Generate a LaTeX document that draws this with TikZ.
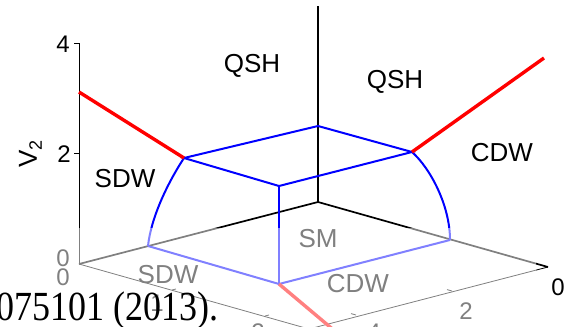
\documentclass[tikz,border=0pt]{standalone}
\usepackage{fontspec}
\setmainfont{Liberation Serif}
\setsansfont{Liberation Sans}
\begin{document}
\begin{tikzpicture}[x=1pt,y=-1pt,
  boxedge/.style={black, line width=1.7pt},
  zaxis/.style={black, line width=1pt},
  floorax/.style={black, line width=0.8pt},
  phase/.style={blue, line width=2pt},
  trans/.style={red, line width=3.4pt},
  region/.style={font=\sffamily\fontsize{26}{26}\selectfont, inner sep=0pt, anchor=base},
  ticklab/.style={font=\sffamily\fontsize{24}{24}\selectfont, inner sep=0pt, anchor=base},
  tickmark/.style={black, line width=0.8pt}]
\useasboundingbox (0,0) rectangle (566,327);
\clip (0,0) rectangle (566,327);

% floor corners and box
\coordinate (L) at (79,264);
\coordinate (Bk) at (318,202);
\coordinate (R) at (548,267);
\coordinate (F) at (309,329);
\coordinate (Ztop) at (79,43);
\coordinate (Vtop) at (318,6);

% phase boundary points
\coordinate (A) at (184,158);
\coordinate (Bt) at (318,126);
\coordinate (C) at (412,152);
\coordinate (D) at (279,186);
\coordinate (E) at (279,284);
\coordinate (Pl) at (148,246);
\coordinate (Pr) at (450,240);
\coordinate (RedL) at (79,92);
\coordinate (RedR) at (544,58);
\coordinate (RedF) at (336,332);

% box edges and axes
\draw[zaxis] (L) -- (Ztop);
\draw[boxedge] (L) -- (Bk) -- (R);
\draw[boxedge] (Bk) -- (Vtop);
\draw[floorax] (L) -- (F) -- (R);

% ticks
\draw[tickmark] (74,43) -- (Ztop);
\draw[tickmark] (74,153) -- (79,153);
\draw[tickmark] (172,290) -- ++(4,-1);
\draw[tickmark] (265,316) -- ++(4,-1);
\draw[tickmark] (452,291) -- ++(-5,-1.4);
\draw[tickmark] (356,315) -- ++(-5,-1.4);

% phase boundaries
\draw[phase] (Pl) .. controls (151,218) and (167,184) .. (A);
\draw[phase] (C) .. controls (430,168) and (450,205) .. (Pr);
\draw[phase] (A) -- (Bt) -- (C) -- (D) -- cycle;
\draw[phase] (D) -- (E);
\draw[phase] (Pl) -- (E) -- (Pr);

\draw[trans] (RedL) -- (A);
\draw[trans] (C) -- (RedR);
\draw[trans] (E) -- (RedF);

% region labels
\node[region] (qsh1) at (252,72) {QSH};
\node[region] (qsh2) at (395,88) {QSH};
\node[region] (cdw1) at (502,161) {CDW};
\node[region] (sdw1) at (125,187) {SDW};
\node[region] (sm) at (318,247) {SM};
\node[region] (sdw2) at (168,283) {SDW};
\node[region] (cdw2) at (358,292) {CDW};

% tick labels
\node[ticklab] (z4) at (63,52) {4};
\node[ticklab] (z2) at (64,162) {2};
\node[ticklab] (z0) at (63,266) {0};
\node[ticklab] (x0) at (63,285) {0};
\node[ticklab] (x1) at (157,311) {1};
\node[ticklab] (x2) at (258,340) {2};
\node[ticklab] (y2) at (466,319) {2};
\node[ticklab] (y4) at (374,340) {4};
\node[rotate=90, anchor=base west, inner sep=0pt, font=\sffamily\fontsize{26}{26}\selectfont]
  (vlab) at (37,168) {V\raisebox{-5pt}{\fontsize{18}{18}\selectfont 2}};

% washed-out lower part of the plot
\fill[white, opacity=0.5] (0,228) rectangle (536,327);

\node[ticklab] (y0) at (558,295) {0};

% running text of the page
\node[anchor=base west, inner sep=0pt, font=\fontsize{36}{36}\selectfont] (ref) at (-4,320) {\scalebox{1}[1.15]{075101 (2013).}};
\end{tikzpicture}
\end{document}
